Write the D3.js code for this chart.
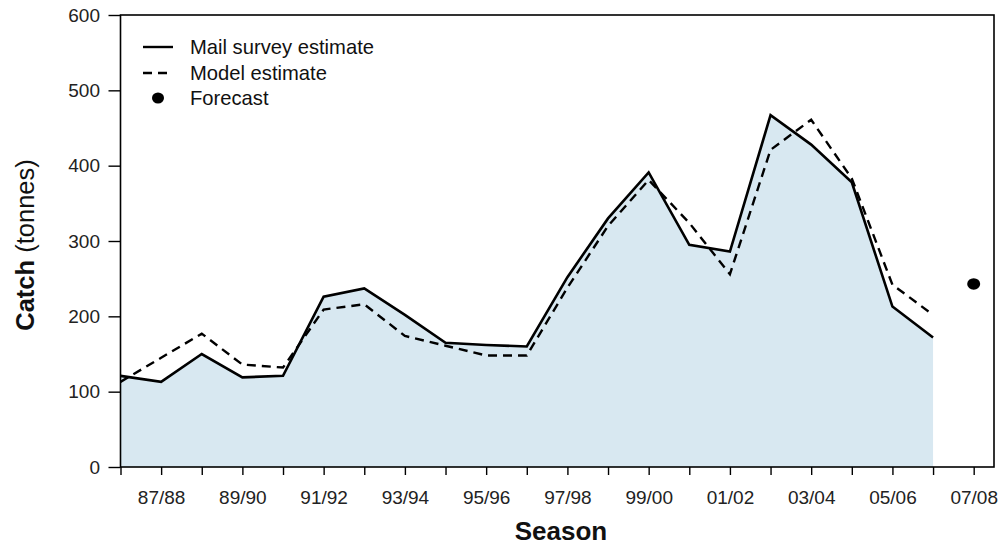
<!DOCTYPE html>
<html><head><meta charset="utf-8">
<script src="https://cdn.jsdelivr.net/npm/d3@7"></script>
<style>body{margin:0;background:#fff}svg{display:block}text{font-family:"Liberation Sans",Arial,sans-serif}</style>
</head><body>
<script>
const seasons = ["86/87","87/88","88/89","89/90","90/91","91/92","92/93","93/94","94/95","95/96","96/97","97/98","98/99","99/00","00/01","01/02","02/03","03/04","04/05","05/06","06/07","07/08"];
const mailSurvey = [121,113,150,119,121,226,237,202,165,162,160,252,330,391,295,286,467,428,378,213,172];
const modelEstimate = [113,145,177,136,132,209,216,174,161,148,148,238,320,381,324,256,421,461,383,242,202];
const forecastSeason = "07/08";
const forecastValue = 243;
const yTicks = [0,100,200,300,400,500,600];
const labelSeasons = ["87/88","89/90","91/92","93/94","95/96","97/98","99/00","01/02","03/04","05/06","07/08"];

const W = 998, H = 544;
const L = 120.5, R = 994, T = 15, B = 467;
const svg = d3.select("body").append("svg").attr("width", W).attr("height", H);

const step = (R - L) / 21.5;
const x = d3.scalePoint().domain(seasons).range([L, L + step * 21]);
const y = d3.scaleLinear().domain([0, 600]).range([B, T]);

const mailData = mailSurvey.map((v, i) => ({s: seasons[i], v}));
const modelData = modelEstimate.map((v, i) => ({s: seasons[i], v}));

// area
svg.append("path").datum(mailData)
  .attr("d", d3.area().x(d => x(d.s)).y0(y(0)).y1(d => y(d.v)))
  .attr("fill", "#d8e8f1");

// lines
svg.append("path").datum(modelData)
  .attr("d", d3.line().x(d => x(d.s)).y(d => y(d.v)))
  .attr("fill", "none").attr("stroke", "#000").attr("stroke-width", 2.4)
  .attr("stroke-dasharray", "9,6");
svg.append("path").datum(mailData)
  .attr("d", d3.line().x(d => x(d.s)).y(d => y(d.v)))
  .attr("fill", "none").attr("stroke", "#000").attr("stroke-width", 2.6)
  .attr("stroke-linejoin", "miter");

// forecast
svg.append("ellipse").attr("cx", x(forecastSeason)).attr("cy", y(forecastValue))
  .attr("rx", 6.5).attr("ry", 5.8).attr("fill", "#000");

// box
svg.append("rect").attr("x", L).attr("y", T).attr("width", R - L).attr("height", B - T)
  .attr("fill", "none").attr("stroke", "#000").attr("stroke-width", 1.6);

// y axis
const yAxis = d3.axisLeft(y).tickValues(yTicks).tickSize(12).tickPadding(8.5).tickFormat(d3.format("d"));
const gy = svg.append("g").attr("transform", `translate(${L},0)`).call(yAxis);
gy.select(".domain").remove();
gy.selectAll("line").attr("stroke", "#000").attr("stroke-width", 1.4);
gy.selectAll("text").attr("font-size", 19).attr("fill", "#222").attr("font-family", "Liberation Sans, Arial, sans-serif");

// x axis
const xAxis = d3.axisBottom(x).tickSize(8).tickPadding(15.5)
  .tickFormat(d => labelSeasons.includes(d) ? d : "");
const gx = svg.append("g").attr("transform", `translate(0,${B})`).call(xAxis);
gx.select(".domain").remove();
gx.selectAll("line").attr("stroke", "#000").attr("stroke-width", 1.4);
gx.selectAll("text").attr("font-size", 19).attr("fill", "#222").attr("font-family", "Liberation Sans, Arial, sans-serif");

// titles
svg.append("text").attr("x", 561).attr("y", 539.5).attr("text-anchor", "middle")
  .attr("font-size", 26).attr("font-weight", "bold").attr("fill", "#111").text("Season");
const yt = svg.append("text").attr("transform", `translate(33.5,245) rotate(-90)`)
  .attr("text-anchor", "middle").attr("font-size", 25.5).attr("fill", "#111");
yt.append("tspan").attr("font-weight", "bold").text("Catch");
yt.append("tspan").attr("font-weight", "normal").text(" (tonnes)");

// legend
const lg = svg.append("g");
const items = [
  {label: "Mail survey estimate", type: "solid", y: 47},
  {label: "Model estimate", type: "dash", y: 73},
  {label: "Forecast", type: "dot", y: 98}
];
items.forEach(it => {
  if (it.type === "dot") {
    lg.append("ellipse").attr("cx", 158).attr("cy", it.y).attr("rx", 6).attr("ry", 5.5).attr("fill", "#000");
  } else {
    const ln = lg.append("line").attr("x1", 143).attr("x2", 173).attr("y1", it.y).attr("y2", it.y)
      .attr("stroke", "#000").attr("stroke-width", 2.4);
    if (it.type === "dash") ln.attr("stroke-dasharray", "9,6");
  }
  lg.append("text").attr("x", 190).attr("y", it.y).attr("dy", "0.35em")
    .attr("font-size", 20.2).attr("fill", "#111").text(it.label);
});
</script>
</body></html>
